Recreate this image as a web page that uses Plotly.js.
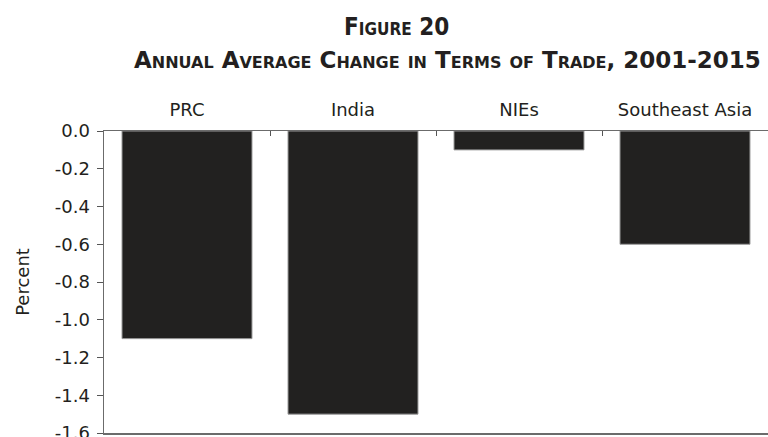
<!DOCTYPE html>
<html>
<head>
<meta charset="utf-8">
<script src="https://cdn.plot.ly/plotly-3.0.1.min.js"></script>
<style>html,body{margin:0;padding:0;background:#fff;}#chart{width:768px;height:437px;}</style>
</head>
<body>
<div id="chart"></div>
<script>
const categories = ["PRC", "India", "NIEs", "Southeast Asia"];
const values = [-1.1, -1.5, -0.1, -0.6];
const yTickVals = [0, -0.2, -0.4, -0.6, -0.8, -1.0, -1.2, -1.4, -1.6];
const yTickText = ["0.0", "-0.2", "-0.4", "-0.6", "-0.8", "-1.0", "-1.2", "-1.4", "-1.6"];
const titleLine1 = "Figure 20";
const titleLine2 = "Annual Average Change in Terms of Trade, 2001-2015";
const yTitle = "Percent";

const textColor = "#231f20";
const tickFont = {family: "DejaVu Sans, sans-serif", size: 18, color: textColor};

const data = [{
  type: "bar",
  x: categories,
  y: values,
  marker: {color: "#222120", line: {color: "#9a9a9a", width: 1}},
  hoverinfo: "x+y"
}];

const layout = {
  width: 768, height: 437,
  margin: {l: 104, r: 0, t: 131, b: 4, pad: 0},
  paper_bgcolor: "#fff", plot_bgcolor: "#fff",
  showlegend: false,
  bargap: 0.217,
  xaxis: {
    side: "top", type: "category",
    showline: true, linecolor: "#6b6b6b", linewidth: 1.5, mirror: true,
    ticks: "inside", tickson: "boundaries", ticklen: 5, tickcolor: "#555", tickwidth: 1,
    ticklabelstandoff: 6,
    tickfont: tickFont, showgrid: false, zeroline: false, fixedrange: true
  },
  yaxis: {
    range: [-1.6, 0], tickmode: "array", tickvals: yTickVals, ticktext: yTickText,
    ticklabeloverflow: "allow",
    showline: true, linecolor: "#6b6b6b", linewidth: 1.5,
    ticks: "outside", ticklen: 6, tickcolor: "#555", tickwidth: 1,
    ticklabelstandoff: 3,
    tickfont: tickFont, showgrid: false, zeroline: false,
    title: {text: yTitle, font: tickFont, standoff: 20}, fixedrange: true
  },
  annotations: [
    {text: titleLine1, xref: "paper", yref: "paper", x: 0.44, y: 1.344, xanchor: "center", yanchor: "middle",
     showarrow: false, font: {family: "DejaVu Sans Condensed, sans-serif", size: 24, weight: 700, variant: "small-caps", color: textColor}},
    {text: titleLine2, xref: "paper", yref: "paper", x: 0.517, y: 1.235, xanchor: "center", yanchor: "middle",
     showarrow: false, font: {family: "DejaVu Sans, sans-serif", size: 23, weight: 700, variant: "small-caps", color: textColor}}
  ]
};

Plotly.newPlot("chart", data, layout, {displayModeBar: false, staticPlot: true});
</script>
</body>
</html>
